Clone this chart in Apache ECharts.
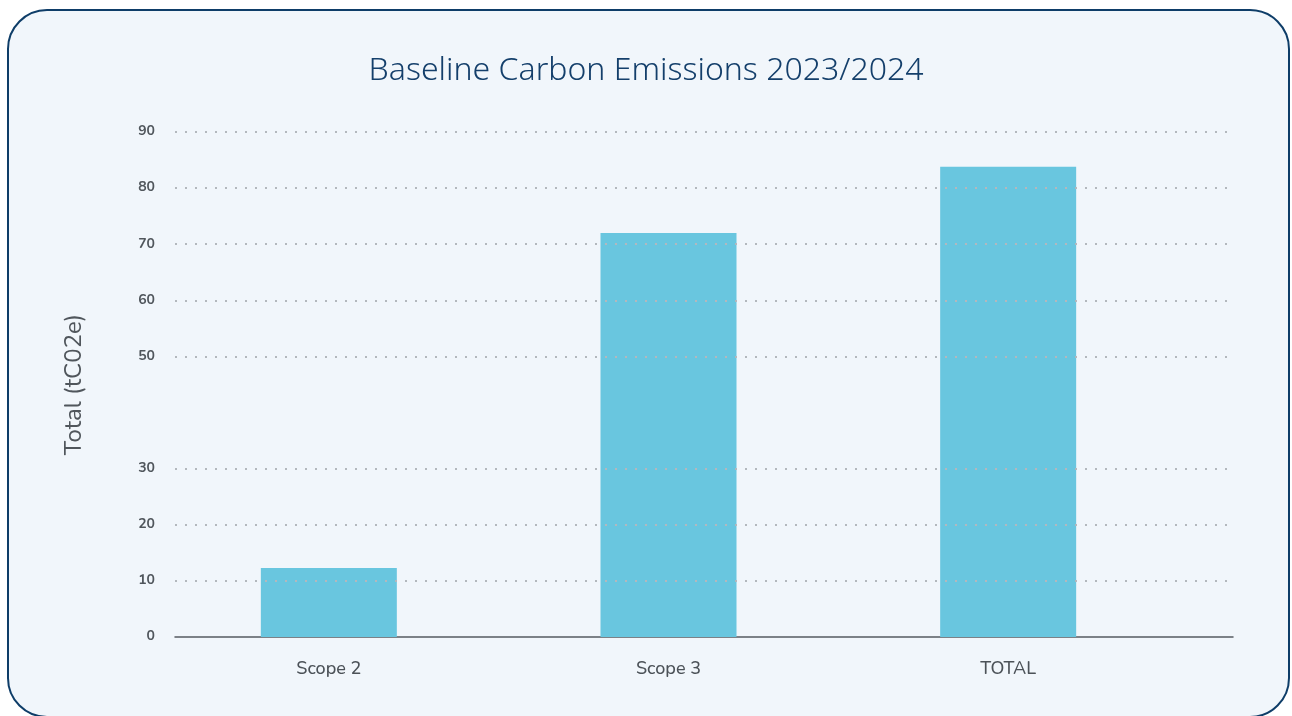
<!DOCTYPE html>
<html>
<head>
<meta charset="utf-8">
<script src="https://cdn.jsdelivr.net/npm/echarts@6/dist/echarts.min.js"></script>
<style>
  html, body { margin: 0; padding: 0; background: #ffffff; }
  #card {
    position: absolute; left: 7px; top: 9px; width: 1279px; height: 705px;
    border: 2.5px solid #0e3d68; border-radius: 40px; background: #f1f6fb;
  }
  #chart { position: absolute; left: 0; top: 0; width: 1292px; height: 716px; }
</style>
</head>
<body>
<div id="card"></div>
<div id="chart"></div>
<script>
var categories = ['Scope 2', 'Scope 3', 'TOTAL']
var emissions = [12.3, 72, 83.8]
// gridlines / labels shown on the y axis (no 40 in the original)
var yTicks = [0, 10, 20, 30, 50, 60, 70, 80, 90]

var chart = echarts.init(document.getElementById('chart'))

var font = 'Nunito, "Noto Sans", Lato, sans-serif'

chart.setOption({
  title: {
    text: 'Baseline Carbon Emissions 2023/2024',
    left: 'center',
    top: 50,
    textStyle: { fontFamily: '"Noto Sans", sans-serif', fontWeight: 300, fontSize: 32, color: '#143f6b' }
  },
  grid: [
    { left: 175, right: 59, top: 132, bottom: 79 },
    { left: 159, right: 114, top: 132, bottom: 79 }
  ],
  xAxis: [
    {
      type: 'category', gridIndex: 0, data: categories,
      axisLine: { lineStyle: { color: '#555b62', width: 1.5 } },
      axisTick: { show: false }, axisLabel: { show: false }
    },
    {
      type: 'category', gridIndex: 1, data: categories,
      axisLine: { show: false }, axisTick: { show: false },
      axisLabel: { margin: 24, fontSize: 18, fontWeight: 500, color: '#4c5258', fontFamily: font }
    }
  ],
  yAxis: [
    {
      type: 'value', gridIndex: 0, min: 0, max: 90, interval: 10,
      name: 'Total (tC02e)', nameLocation: 'middle', nameGap: 88,
      nameTextStyle: { fontSize: 24, color: '#50565c', fontFamily: font },
      axisLine: { show: false }, axisTick: { show: false },
      splitLine: { show: false },
      axisLabel: {
        margin: 20, fontSize: 14, fontWeight: 'bold', color: '#50565c', fontFamily: font,
        formatter: function (v) { return yTicks.indexOf(v) >= 0 ? v : '' }
      }
    },
    {
      type: 'value', gridIndex: 1, min: 0, max: 90, show: false
    }
  ],
  series: [
    {
      type: 'line', xAxisIndex: 0, yAxisIndex: 0, data: [],
      silent: true,
      markLine: {
        symbol: 'none', silent: true, label: { show: false },
        lineStyle: { color: '#b3b8bd', width: 2, type: [2, 8] },
        data: yTicks.filter(function (v) { return v > 0 }).map(function (v) { return { yAxis: v } })
      }
    },
    {
      type: 'bar', xAxisIndex: 1, yAxisIndex: 1,
      data: emissions, barWidth: 136,
      itemStyle: { color: '#69c6df' }
    }
  ]
})
</script>
</body>
</html>
